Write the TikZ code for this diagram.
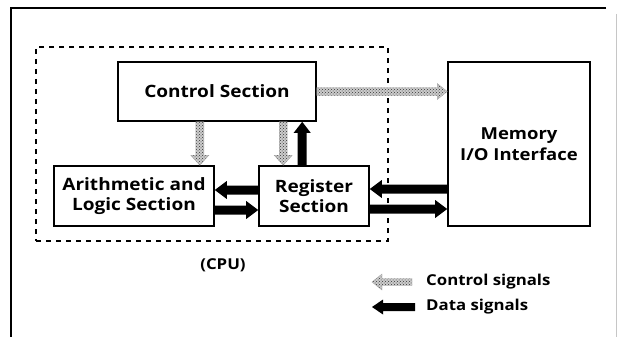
\documentclass[tikz,border=0pt]{standalone}
\usepackage{fontspec}
\setmainfont{Open Sans}[FakeStretch=1.12]
\usetikzlibrary{calc,patterns,arrows.meta}

% Fat block arrow from #2 to #3: #1 style, #4 half shaft width,
% #5 half head width, #6 head length
\newcommand{\fatarrow}[6]{%
  \coordinate (fas) at (#2);
  \coordinate (fae) at (#3);
  \coordinate (fah) at ($(fae)!#6!(fas)$);
  \path[#1] ($(fas)!#4!90:(fae)$) -- ($(fah)!#4!90:(fae)$)
    -- ($(fah)!#5!90:(fae)$) -- (fae) -- ($(fah)!#5!-90:(fae)$)
    -- ($(fah)!#4!-90:(fae)$) -- ($(fas)!#4!-90:(fae)$) -- cycle;
}

\tikzset{
  x=1pt, y=-1pt,
  block/.style={draw, line width=1.6pt, fill=white, inner sep=0pt,
    align=center, font=\bfseries\fontsize{17}{19.5}\selectfont},
  cpubox/.style={draw, line width=1.5pt, dash pattern=on 5pt off 5pt,
    inner sep=0pt},
  label/.style={font=\bfseries\fontsize{15}{17}\selectfont, inner sep=0pt},
  ctrlsig/.style={preaction={fill=gray!40}, pattern=crosshatch dots,
    pattern color=black!80, draw=gray!70, line width=0.4pt},
  datasig/.style={fill=black},
  frame/.style={line width=1.3pt},
}

\begin{document}
\begin{tikzpicture}
  \useasboundingbox (0,0) rectangle (618,337);

  % page frame
  \draw[frame] (606,8) -- (11,8) -- (11,337);
  \draw[gray!45, line width=0.6pt] (616,14) -- (616,337);

  % CPU boundary and blocks
  \node[cpubox, minimum width=352pt, minimum height=194pt] (cpu) at (212,144) {};
  \node[block, minimum width=198pt, minimum height=59pt] (ctrl) at (217,91.5) {Control Section};
  \node[block, minimum width=160pt, minimum height=60pt] (alu) at (134,196) {Arithmetic and\\Logic Section};
  \node[block, minimum width=110pt, minimum height=60pt] (reg) at (314,196) {Register\\Section};
  \node[block, minimum width=142pt, minimum height=164pt,
        font=\bfseries\fontsize{16.5}{21}\selectfont] (mem) at (519,144) {Memory\\I/O Interface};

  \node[label] (cpulab) at (223,265) {(CPU)};

  % control signals
  \fatarrow{ctrlsig}{ctrl.east}{ctrl.east -| mem.west}{4pt}{8pt}{10pt}
  \coordinate (ca) at ($(alu.north east)+(-15,0)$);
  \fatarrow{ctrlsig}{ca |- ctrl.south}{ca}{4pt}{9pt}{10pt}
  \coordinate (cr) at ($(reg.north west)+(25,0)$);
  \fatarrow{ctrlsig}{cr |- ctrl.south}{cr}{4pt}{9pt}{10pt}

  % data signals
  \coordinate (dr) at ($(reg.north west)+(44,0)$);
  \fatarrow{datasig}{dr}{dr |- ctrl.south}{4.5pt}{8.5pt}{11pt}
  \fatarrow{datasig}{$(reg.west)+(0,-6)$}{$(alu.east)+(0,-6)$}{4.5pt}{9pt}{12pt}
  \fatarrow{datasig}{$(alu.east)+(0,14)$}{$(reg.west)+(0,14)$}{4.5pt}{9pt}{12pt}
  \fatarrow{datasig}{$(mem.west)+(0,45)$}{$(reg.east)+(0,-7)$}{4.5pt}{9pt}{12pt}
  \fatarrow{datasig}{$(reg.east)+(0,13)$}{$(mem.west)+(0,65)$}{4.5pt}{9pt}{12pt}

  % legend
  \node[label, anchor=west] (lc) at (426,282) {Control signals};
  \node[label, anchor=west] (ld) at (426,307) {Data signals};
  \coordinate (lcs) at ($(lc.west)+(-14,0)$);
  \coordinate (lds) at ($(ld.west)+(-11,0)$);
  \fatarrow{ctrlsig}{lcs}{$(lcs)+(-40,0)$}{3.5pt}{8pt}{10pt}
  \fatarrow{datasig}{lds}{$(lds)+(-43,0)$}{4pt}{7.5pt}{11pt}
\end{tikzpicture}
\end{document}
